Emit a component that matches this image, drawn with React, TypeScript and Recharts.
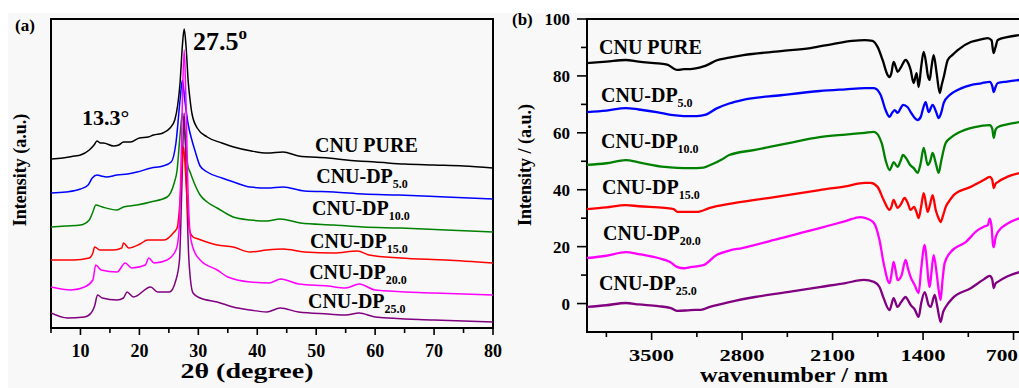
import React from "react";
import { LineChart, Line, XAxis, YAxis, ReferenceArea, ReferenceDot } from "recharts";

const FONT = "'Liberation Serif','Times New Roman',serif";

// ---------- Panel (a): XRD, 2θ (degree) vs intensity (a.u., stacked) ----------
const xrdTicks = [5, 10, 15, 20, 25, 30, 35, 40, 45, 50, 55, 60, 65, 70, 75, 80];

const xrdPure: number[][] = [[5,169],[7,170],[9,172],[10,173],[11.5,178],[12.3,183],[12.8,187],[13.4,185],[13.9,185],[15.6,182],[16.5,183],[17.3,186],[18.5,186],[20,190],[21.5,191],[22.4,193],[24,195],[25.2,200],[26,208],[26.5,223],[26.9,245],[27.3,283],[27.6,299],[27.9,283],[28.3,245],[28.6,228],[28.9,215],[29.8,200],[31.5,191],[34,185],[36,181],[39,177],[41.7,175],[44.4,176],[47,172],[52,170],[57,167],[60,166],[65,164],[70,163],[75,162],[80,160]];
const xrdDp5: number[][] = [[5,135],[7.5,136],[10,139],[11.3,143],[12,150],[12.8,153],[13.5,152],[14.4,151],[16.2,153],[18,154],[19.6,156],[22,160],[24,162],[25.4,166],[26.2,185],[26.9,228],[27.3,248],[27.7,228],[28.3,203],[28.9,188],[29.5,176],[30.3,162],[31.5,156],[34,150],[36,146],[38.8,141],[41.7,140],[44.4,141],[48,137],[53,136],[58,134],[64,133],[72,131],[80,129]];
const xrdDp10: number[][] = [[5,101],[7.5,102],[10,103],[11.5,108],[12.1,116],[12.6,123],[13.7,121],[16.2,118],[17.3,121],[19.6,123],[21.9,126],[24.7,131],[25.9,145],[26.4,158],[26.9,193],[27.3,215],[27.7,193],[28.2,163],[28.6,156],[29.1,148],[30.3,133],[31.5,126],[33.2,120],[35.9,111],[38.8,108],[41.6,107],[43.9,109],[47.3,105],[53,103],[58,101],[64.3,100],[72,98],[80,96]];
const xrdDp15: number[][] = [[5,68],[8.8,68],[11.5,70],[12.1,75],[12.4,81],[13.3,78],[15.6,78],[17,80],[17.3,85],[18.2,80],[20.1,84],[21.4,88],[22.9,88],[24.2,88],[25.9,96],[26.4,100],[26.9,128],[27.2,158],[27.5,181],[27.8,158],[28.1,128],[28.5,98],[29.1,91],[30,89],[33.2,83],[35.9,81],[38.8,76],[41.6,78],[44.4,79],[48,76],[53,75],[57,77],[59,73],[64.3,70],[72,68],[80,65]];
const xrdDp20: number[][] = [[5,41],[8.4,38],[10.7,41],[12.1,48],[12.6,63],[13.5,58],[16.2,56],[17.6,65],[18.7,60],[21,63],[21.6,70],[22.5,65],[24.7,68],[26.2,78],[26.7,95],[27.0,148],[27.3,228],[27.6,278],[27.9,228],[28.2,148],[28.6,95],[29.1,80],[30.3,68],[33.2,58],[35,51],[38.8,46],[42,45],[44,49],[47,44],[52,42],[55,40],[57.3,44],[60,38],[70,35],[80,33]];
const xrdDp25: number[][] = [[5,15],[7.8,10],[10.7,11],[11.8,15],[12.4,22],[12.9,33],[13.7,30],[16.2,28],[17.3,30],[17.9,36],[19,31],[21.9,41],[23.1,36],[25.1,36],[26.2,48],[26.8,68],[27.2,140],[27.6,215],[28.0,140],[28.4,68],[29.1,35],[30.3,30],[33.2,26],[35.9,21],[38.8,18],[41.6,16],[43.9,20],[47,16],[52,14],[55,13],[57.3,15],[60,11],[70,8],[80,6]];

// ---------- Panel (b): FTIR, wavenumber vs intensity ----------
const ftirTicks = [3850, 3500, 3150, 2800, 2450, 2100, 1750, 1400, 1050, 700];
const ftirYTicks = [0, 10, 20, 30, 40, 50, 60, 70, 80, 90, 100];

const ftirPure: number[][] = [[4000,84.5],[3850,85.0],[3700,85.6],[3600,85.0],[3450,84.4],[3380,84.0],[3330,82.6],[3300,82.1],[3250,82.4],[3200,82.4],[3130,82.9],[3080,83.6],[3000,85.4],[2900,86.4],[2790,87.3],[2500,88.7],[2271,89.8],[2100,91.2],[1950,92.3],[1850,92.6],[1791,92.3],[1752,90.2],[1713,85.6],[1674,80.3],[1659,79.6],[1645,81],[1628,84.9],[1610,83],[1597,81.4],[1574,82.8],[1535,85.6],[1510,84],[1496,82.1],[1473,77.5],[1450,81],[1434,76.1],[1415,83],[1395,88.4],[1375,84],[1364,80.3],[1349,78.6],[1335,83],[1318,87.3],[1295,81],[1271,74],[1255,77],[1240,79.6],[1209,85.6],[1170,87.5],[1132,89.1],[1031,91.9],[950,92.8],[899,93.3],[870,92.5],[855,88],[840,90],[822,92.6],[750,93.6],[650,94.4]];
const ftirDp5: number[][] = [[4000,67.3],[3850,67.8],[3700,68.7],[3600,68.2],[3450,67.2],[3350,66.3],[3250,65.9],[3150,65.9],[3080,66.4],[3000,68.5],[2900,70.3],[2800,71.5],[2500,73.2],[2200,74.7],[2000,75.3],[1850,75.7],[1780,75.7],[1728,73.3],[1690,68],[1659,65.6],[1640,67],[1620,68],[1597,67],[1575,68.5],[1555,69.8],[1519,69],[1496,67.3],[1442,64.5],[1418,65.6],[1400,68.5],[1380,70.8],[1357,67.3],[1326,69.8],[1300,67.5],[1279,65.2],[1260,67],[1240,70.5],[1200,73],[1163,74.3],[1031,76.8],[950,77.4],[884,77.9],[865,76.5],[853,74.3],[840,76],[822,77.5],[750,78],[650,78.6]];
const ftirDp10: number[][] = [[4000,48.7],[3850,49.3],[3700,50.4],[3600,49.6],[3400,48],[3300,47.7],[3200,47.6],[3100,47.8],[3050,48.6],[2950,50.8],[2900,52.2],[2700,54],[2450,56.3],[2200,58.5],[2000,59.4],[1850,60],[1780,60.3],[1720,56.4],[1690,50.4],[1659,46.9],[1645,48],[1628,49.7],[1597,48],[1575,50],[1555,52.2],[1530,51],[1500,48.7],[1470,47.5],[1442,45.9],[1420,49],[1395,54.7],[1364,48.7],[1345,50],[1326,52.9],[1300,49],[1279,45.9],[1260,50],[1225,56.4],[1180,58.5],[1132,59.9],[1000,62],[884,62.7],[865,61.5],[853,58.2],[840,61],[822,62],[750,63],[650,63.8]];
const ftirDp15: number[][] = [[4000,33.2],[3850,33.8],[3700,34.6],[3600,34.2],[3400,33.6],[3330,33.2],[3300,32.2],[3200,32.2],[3150,32.2],[3050,33.6],[2900,35],[2700,36.4],[2450,38.1],[2200,39.9],[2000,41.2],[1850,42.4],[1806,42.4],[1752,41],[1705,36.4],[1659,32.9],[1645,34],[1628,36.4],[1597,33.6],[1570,35],[1543,37.1],[1520,35.5],[1496,32.9],[1470,34],[1450,32],[1434,30],[1415,34],[1395,38.8],[1364,32.2],[1345,35],[1326,38.1],[1302,32.9],[1280,30],[1264,28.6],[1245,31],[1225,33.9],[1190,36.5],[1163,38.1],[1031,41],[930,43.4],[884,44.5],[865,43.5],[853,40.6],[840,42],[822,42.7],[750,44.5],[650,45.9]];
const ftirDp20: number[][] = [[4000,16],[3850,16.8],[3700,18.1],[3600,17.4],[3450,16],[3357,14.6],[3300,12.8],[3250,12.4],[3200,12.8],[3100,13.5],[3000,17],[2900,18.6],[2800,19.5],[2500,23],[2200,26.5],[2000,29],[1884,30.4],[1830,29.8],[1780,28.3],[1737,22.3],[1705,14.2],[1659,7.2],[1645,10],[1628,14.6],[1610,11],[1597,8.2],[1566,10],[1535,15.3],[1515,12],[1496,9.3],[1465,6.5],[1434,3.7],[1415,12],[1387,20.6],[1370,14],[1357,7.6],[1349,5.8],[1335,11],[1318,17],[1295,10.7],[1280,5],[1264,1.2],[1250,8],[1233,14.2],[1186,18.1],[1070,21.6],[977,25.8],[930,27],[899,27.6],[884,29.8],[870,27],[860,21],[853,19.8],[840,23],[822,25.1],[750,28],[650,30]];
const ftirDp25: number[][] = [[4000,-1.2],[3850,-0.6],[3700,0.2],[3600,-0.3],[3450,-0.9],[3350,-1.6],[3300,-2.6],[3200,-2.3],[3120,-2.2],[3050,-1.2],[2900,0.5],[2700,2.3],[2450,4],[2200,5.8],[2000,7.2],[1858,8.3],[1780,7.6],[1737,5.8],[1705,1.9],[1659,-2.3],[1645,-0.5],[1628,1.9],[1597,-1.2],[1570,0.5],[1535,2.3],[1515,1],[1496,-0.5],[1465,-2],[1434,-4.7],[1415,0],[1387,4],[1357,-0.5],[1341,-1.2],[1310,3],[1290,-1],[1264,-6.5],[1245,-3],[1225,-1.2],[1171,1.9],[1031,5.4],[930,8.5],[884,9.7],[865,8.5],[853,5.4],[840,7],[822,7.6],[750,9.5],[650,11.1]];

const seriesNames = ["CNU PURE", "CNU-DP", "CNU-DP", "CNU-DP", "CNU-DP", "CNU-DP"];
const seriesSubs = ["", "5.0", "10.0", "15.0", "20.0", "25.0"];
const seriesColors = ["#000000", "#0000ff", "#008000", "#ff0000", "#ff00ff", "#800080"];

const xrdSeries = [xrdPure, xrdDp5, xrdDp10, xrdDp15, xrdDp20, xrdDp25];
const ftirSeries = [ftirPure, ftirDp5, ftirDp10, ftirDp15, ftirDp20, ftirDp25];

// label anchors (data coordinates)
const xrdLabelPos = [[49.8, 176], [50.0, 145], [49.3, 113], [48.95, 80], [48.8, 49], [48.6, 20]];
const ftirLabelPos = [[3907, 87.7], [3892, 70.8], [3892, 54.7], [3884, 38.5], [3876, 22.3], [3907, 4.8]];

const toPts = (arr: number[][]) => arr.map(([x, y]) => ({ x, y }));

const XrdTick = (props: any) => {
  const { x, y, payload } = props;
  const v = payload.value;
  const major = v % 10 === 0;
  return (
    <g>
      <line x1={x} x2={x} y1={y} y2={y + (major ? 7 : 5)} stroke="#000" strokeWidth={1.6} />
      {major && (
        <text x={x} y={y + 29} textAnchor="middle" fontFamily={FONT} fontWeight={700} fontSize={18} fill="#000">
          {v}
        </text>
      )}
    </g>
  );
};

const FtirXTick = (props: any) => {
  const { x, y, payload } = props;
  const v = payload.value;
  const major = v % 700 === 0;
  const len = v >= 1000 ? 45 : 32;
  // keep the label inside the chart's right edge
  const right = Math.min(x + len / 2, 518);
  return (
    <g>
      <line x1={x} x2={x} y1={y} y2={y + (major ? 8 : 5)} stroke="#000" strokeWidth={1.6} />
      {major && (
        <text x={right} y={y + 29} textAnchor="end" fontFamily={FONT} fontWeight={700} fontSize={17} fill="#000"
          textLength={len} lengthAdjust="spacingAndGlyphs">
          {v}
        </text>
      )}
    </g>
  );
};

const FtirYTick = (props: any) => {
  const { x, y, payload } = props;
  const v = payload.value;
  const major = v % 20 === 0;
  return (
    <g>
      <line x1={x} x2={x - (major ? 10 : 6)} y1={y} y2={y} stroke="#000" strokeWidth={1.6} />
      {major && (
        <text x={x - 17} y={y + 6} textAnchor="end" fontFamily={FONT} fontWeight={700} fontSize={17} fill="#000">
          {v}
        </text>
      )}
    </g>
  );
};

const curveLabel = (main: string, sub: string) => (props: any) => {
  const vb = props.viewBox || {};
  return (
    <text x={vb.x} y={vb.y} fontFamily={FONT} fontWeight={700} fontSize={20} fill="#000">
      {main}
      {sub && (
        <tspan fontSize={12} dy={5}>
          {sub}
        </tspan>
      )}
    </text>
  );
};

const peak133 = (props: any) => {
  const vb = props.viewBox || {};
  return (
    <text x={vb.x} y={vb.y} fontFamily={FONT} fontWeight={700} fontSize={22} fill="#000">
      13.3°
    </text>
  );
};

const peak275 = (props: any) => {
  const vb = props.viewBox || {};
  return (
    <text x={vb.x} y={vb.y} fontFamily={FONT} fontWeight={700} fontSize={26} fill="#000">
      27.5
      <tspan fontSize={17} dy={-11}>o</tspan>
    </text>
  );
};

export default function App() {
  return (
    <div style={{ position: "absolute", left: 0, top: 0, width: 1019, height: 388, overflow: "hidden", background: "#ffffff" }}>
      <div style={{ position: "absolute", left: 8, top: 13, width: 1011, height: 375, background: "#f8f8f8" }} />
      <div style={{ position: "absolute", left: 0, top: 0 }}>
        <LineChart width={515} height={388} margin={{ top: 19, right: 22, bottom: 30, left: 0 }}>
          <XAxis type="number" dataKey="x" domain={[5, 80]} ticks={xrdTicks} interval={0} tickSize={0} tickMargin={0}
            axisLine={false} tickLine={false} tick={XrdTick} height={30} allowDataOverflow />
          <YAxis type="number" domain={[0, 309]} width={51} tick={false} axisLine={false} tickLine={false} allowDataOverflow />
          {[0, 1, 2, 5, 3, 4].map((i) => (
            <Line key={"x" + i} data={toPts(xrdSeries[i])} dataKey="y" type="monotone" stroke={seriesColors[i]}
              strokeWidth={1.5} dot={false} activeDot={false} isAnimationActive={false} />
          ))}
          <ReferenceArea x1={5} x2={80} y1={0} y2={309} fill="none" fillOpacity={0} stroke="#000" strokeWidth={2} ifOverflow="visible" />
          {xrdLabelPos.map((p, i) => (
            <ReferenceDot key={"xl" + i} x={p[0]} y={p[1]} r={0} stroke="none" fill="none" label={curveLabel(seriesNames[i], seriesSubs[i])} />
          ))}
          <ReferenceDot x={10.26} y={203} r={0} stroke="none" fill="none" label={peak133} />
          <ReferenceDot x={29.1} y={278} r={0} stroke="none" fill="none" label={peak275} />
        </LineChart>
      </div>
      <div style={{ position: "absolute", left: 500, top: 0 }}>
        <LineChart width={520} height={388} margin={{ top: 19, right: 0, bottom: 26, left: 0 }}>
          <XAxis type="number" dataKey="x" domain={[650, 4000]} reversed ticks={ftirTicks} interval={0} tickSize={0} tickMargin={0}
            axisLine={false} tickLine={false} tick={FtirXTick} height={30} allowDataOverflow />
          <YAxis type="number" domain={[-10, 100]} width={87} ticks={ftirYTicks} interval={0} tickSize={0} tickMargin={0}
            axisLine={false} tickLine={false} tick={FtirYTick} allowDataOverflow />
          {[5, 4, 3, 2, 1, 0].map((i) => (
            <Line key={"f" + i} data={toPts(ftirSeries[i])} dataKey="y" type="monotone" stroke={seriesColors[i]}
              strokeWidth={2.3} dot={false} activeDot={false} isAnimationActive={false} />
          ))}
          <ReferenceArea x1={650} x2={4000} y1={-10} y2={100} fill="none" fillOpacity={0} stroke="#000" strokeWidth={2} ifOverflow="visible" />
          {ftirLabelPos.map((p, i) => (
            <ReferenceDot key={"fl" + i} x={p[0]} y={p[1]} r={0} stroke="none" fill="none" label={curveLabel(seriesNames[i], seriesSubs[i])} />
          ))}
        </LineChart>
      </div>
      <svg width={1019} height={388} style={{ position: "absolute", left: 0, top: 0, pointerEvents: "none" }}>
        <text x={15} y={31} fontFamily={FONT} fontWeight={700} fontSize={17} fill="#000">(a)</text>
        <text x={512} y={25} fontFamily={FONT} fontWeight={700} fontSize={17} fill="#000">(b)</text>
        <text x={20} y={170} transform="rotate(-90 20 170)" textAnchor="middle" dominantBaseline="central"
          fontFamily={FONT} fontWeight={700} fontSize={18} fill="#000">Intensity (a.u.)</text>
        <text x={525} y={165} transform="rotate(-90 525 165)" textAnchor="middle" dominantBaseline="central"
          fontFamily={FONT} fontWeight={700} fontSize={18} fill="#000">Intensity / (a.u.)</text>
        <text x={247} y={378} textAnchor="middle" fontFamily={FONT} fontWeight={700} fontSize={20} fill="#000"
          textLength={133} lengthAdjust="spacingAndGlyphs">2θ (degree)</text>
        <text x={794} y={382} textAnchor="middle" fontFamily={FONT} fontWeight={700} fontSize={20} fill="#000"
          textLength={188} lengthAdjust="spacingAndGlyphs">wavenumber / nm</text>
      </svg>
    </div>
  );
}
